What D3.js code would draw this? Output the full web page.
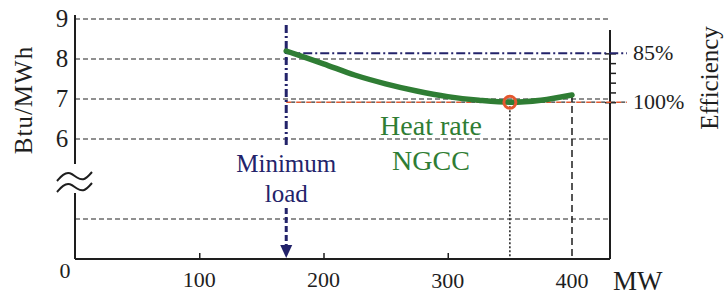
<!DOCTYPE html>
<html>
<head>
<meta charset="utf-8">
<script src="https://cdn.jsdelivr.net/npm/d3@7"></script>
<style>
  body { margin: 0; background: #fff; }
  text { font-family: "Liberation Serif", "DejaVu Serif", serif; }
</style>
</head>
<body>
<script>
// data
var loadMW   = [170, 200, 225, 250, 275, 300, 325, 350, 375, 400];
var heatRate = [8.2, 7.88, 7.6, 7.38, 7.2, 7.06, 6.97, 6.92, 6.97, 7.1];
var minLoad = 170;
var bestLoad = 350, bestHR = 6.92;
var xTicks = [100, 200, 300];
var xLabels = [0, 100, 200, 300, 400];
var yGrid = [1, 6, 7, 8, 9];
var yLabels = [6, 7, 8, 9];
var effTicks = [85, 88, 91, 94, 97, 100];
var effLabels = [85, 100];

var width = 725, height = 295;
var svg = d3.select('body').append('svg').attr('width', width).attr('height', height);

var x = d3.scaleLinear().domain([0, 400]).range([75, 572]);
var xRight = 610;
// broken axis: 0..1 at the bottom, 6..9 on top
var y = d3.scaleLinear().domain([0, 1, 6, 9]).range([259, 219, 139, 19]);
var eff = d3.scaleLinear().domain([85, 100]).range([y(bestHR / 0.85), y(bestHR)]);

var ink = '#1e1e1e', navy = '#23236a', green = '#2f7d34', red = '#e4572e';

// dashed grid
svg.selectAll('.grid').data(yGrid).enter().append('line')
    .attr('x1', x(0)).attr('x2', xRight)
    .attr('y1', function(d){ return y(d); }).attr('y2', function(d){ return y(d); })
    .attr('stroke', '#222').attr('stroke-width', 1.2).attr('stroke-dasharray', '5,3');

// left axis with break
svg.append('line').attr('x1', x(0)).attr('x2', x(0)).attr('y1', 15).attr('y2', 164)
    .attr('stroke', ink).attr('stroke-width', 2);
svg.append('line').attr('x1', x(0)).attr('x2', x(0)).attr('y1', 193).attr('y2', y(0))
    .attr('stroke', ink).attr('stroke-width', 2);
var wave = d3.line().curve(d3.curveBasis);
[0, 11].forEach(function(off){
  svg.append('path')
    .attr('d', wave([[57, 181 + off], [63, 174 + off], [70, 172 + off], [77, 178 + off], [84, 181 + off], [92, 172 + off]]))
    .attr('fill', 'none').attr('stroke', ink).attr('stroke-width', 2);
});

// bottom axis
var xAxis = svg.append('g').attr('transform', 'translate(0,' + y(0) + ')')
    .call(d3.axisBottom(x).tickValues(xTicks).tickSizeInner(-6).tickSizeOuter(0).tickFormat(''));
xAxis.select('.domain').attr('d', 'M' + x(0) + ',0H' + xRight).attr('stroke', ink).attr('stroke-width', 2);
xAxis.selectAll('.tick line').attr('stroke', ink).attr('stroke-width', 1.5);

svg.selectAll('.xl').data(xLabels).enter().append('text')
    .attr('x', function(d){ return d === 0 ? x(0) - 10 : x(d); })
    .attr('y', function(d){ return d === 0 ? 278 : 286 + d / 200; })
    .attr('text-anchor', 'middle').attr('font-size', 22).attr('fill', ink)
    .text(function(d){ return d; });
svg.append('text').attr('x', 613).attr('y', 290).attr('font-size', 27).attr('fill', ink).text('MW');

// left labels
svg.selectAll('.yl').data(yLabels).enter().append('text')
    .attr('x', 62).attr('y', function(d){ return y(d) + 8; })
    .attr('text-anchor', 'middle').attr('font-size', 25).attr('fill', ink)
    .text(function(d){ return d; });
svg.append('text').attr('transform', 'translate(32,100) rotate(-90)')
    .attr('text-anchor', 'middle').attr('font-size', 25).attr('letter-spacing', 1).attr('fill', ink)
    .text('Btu/MWh');

// right axis: efficiency
svg.append('line').attr('x1', xRight).attr('x2', xRight).attr('y1', 30).attr('y2', y(0))
    .attr('stroke', ink).attr('stroke-width', 2);
var rAxis = svg.append('g').attr('transform', 'translate(' + xRight + ',0)')
    .call(d3.axisRight(eff).tickValues(effTicks).tickSize(6).tickFormat(''));
rAxis.select('.domain').remove();
rAxis.selectAll('.tick line').attr('stroke', ink).attr('stroke-width', 1.5)
    .attr('x1', function(d){ return effLabels.indexOf(d) >= 0 ? -5 : 0; });
svg.selectAll('.el').data(effLabels).enter().append('text')
    .attr('x', 633).attr('y', function(d){ return eff(d) + 7; })
    .attr('font-size', 22).attr('fill', ink)
    .text(function(d){ return d + '%'; });
svg.append('text').attr('transform', 'translate(718,78) rotate(-90)')
    .attr('text-anchor', 'middle').attr('font-size', 25).attr('fill', ink)
    .text('Efficiency');

// 85% and 100% reference lines
svg.append('line').attr('x1', x(minLoad)).attr('x2', 627)
    .attr('y1', eff(85)).attr('y2', eff(85))
    .attr('stroke', navy).attr('stroke-width', 2).attr('stroke-dasharray', '9,3,2,3');
svg.append('line').attr('x1', x(minLoad)).attr('x2', 627)
    .attr('y1', eff(100)).attr('y2', eff(100))
    .attr('stroke', red).attr('stroke-width', 1.5).attr('stroke-dasharray', '5,5');
svg.append('line').attr('x1', x(minLoad) + 5).attr('x2', 627)
    .attr('y1', eff(100)).attr('y2', eff(100))
    .attr('stroke', '#333').attr('stroke-width', 1.2).attr('stroke-dasharray', '4,6');

// verticals at best point and full load
svg.append('line').attr('x1', x(bestLoad)).attr('x2', x(bestLoad))
    .attr('y1', y(bestHR)).attr('y2', y(0))
    .attr('stroke', ink).attr('stroke-width', 1.5).attr('stroke-dasharray', '2,2');
svg.append('line').attr('x1', x(400)).attr('x2', x(400))
    .attr('y1', y(heatRate[heatRate.length - 1])).attr('y2', y(0))
    .attr('stroke', ink).attr('stroke-width', 1.5).attr('stroke-dasharray', '7,4');

// minimum load marker
var mx = x(minLoad);
svg.append('line').attr('x1', mx).attr('x2', mx).attr('y1', 25).attr('y2', 148)
    .attr('stroke', navy).attr('stroke-width', 3).attr('stroke-dasharray', '8,3,2,3');
svg.append('line').attr('x1', mx).attr('x2', mx).attr('y1', 208).attr('y2', 246)
    .attr('stroke', navy).attr('stroke-width', 3).attr('stroke-dasharray', '6,3');
svg.append('path').attr('d', 'M' + (mx - 6) + ',245L' + (mx + 6) + ',245L' + mx + ',258Z').attr('fill', navy);
svg.append('text').attr('x', mx).attr('y', 172).attr('text-anchor', 'middle')
    .attr('font-size', 25).attr('fill', navy).text('Minimum');
svg.append('text').attr('x', mx).attr('y', 202).attr('text-anchor', 'middle')
    .attr('font-size', 25).attr('fill', navy).text('load');

// heat rate curve
var hrLine = d3.line()
    .x(function(d, i){ return x(loadMW[i]); })
    .y(function(d){ return y(d); })
    .curve(d3.curveCatmullRom);
svg.append('path').attr('d', hrLine(heatRate))
    .attr('fill', 'none').attr('stroke', green).attr('stroke-width', 5.5).attr('stroke-linecap', 'round');

svg.append('circle').attr('cx', x(bestLoad)).attr('cy', y(bestHR)).attr('r', 6)
    .attr('fill', 'none').attr('stroke', red).attr('stroke-width', 3);

svg.append('text').attr('x', 431).attr('y', 135).attr('text-anchor', 'middle')
    .attr('font-size', 28).attr('fill', green).text('Heat rate');
svg.append('text').attr('x', 431).attr('y', 170).attr('text-anchor', 'middle')
    .attr('font-size', 28).attr('fill', green).text('NGCC');
</script>
</body>
</html>
